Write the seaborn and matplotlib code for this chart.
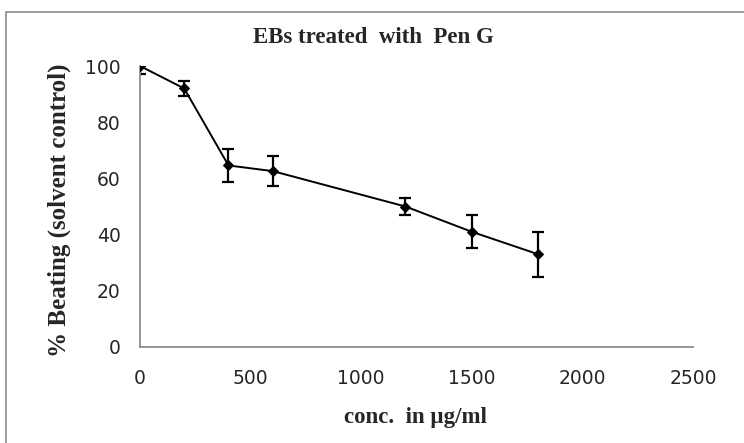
import matplotlib
matplotlib.use("Agg")
import matplotlib.pyplot as plt
import seaborn as sns
import pandas as pd
from matplotlib.patches import Rectangle

conc = [0, 200, 400, 600, 1200, 1500, 1800]
beating = [100, 92, 64.6, 62.6, 50, 41, 33]
err_low = [3, 2.6, 5.8, 5.4, 3, 5.8, 8.1]
err_high = [0, 2.6, 5.8, 5.4, 3, 5.8, 8.1]
x_ticks = [0, 500, 1000, 1500, 2000, 2500]
y_ticks = [0, 20, 40, 60, 80, 100]

sns.set_style("white")
df = pd.DataFrame({"conc": conc, "beating": beating})

fig = plt.figure(figsize=(7.44, 4.43), dpi=100)
ax = fig.add_axes([140/744, 1-347/443, (693-140)/744, (347-66)/443])

ax.errorbar(conc, beating, yerr=[err_low, err_high], fmt="none", ecolor="black",
            elinewidth=1.6, capsize=4.5, capthick=1.6, zorder=2)
sns.lineplot(data=df, x="conc", y="beating", ax=ax, color="black", linewidth=1.4,
             marker="D", markersize=5, markeredgecolor="black", zorder=3)

ax.set_xlim(0, 2500)
ax.set_ylim(0, 100)
ax.set_xticks(x_ticks)
ax.set_yticks(y_ticks)
ax.set_xlabel("")
ax.set_ylabel("")
for s in ["top", "right"]:
    ax.spines[s].set_visible(False)
for s in ["left", "bottom"]:
    ax.spines[s].set_color("#8c8c8c")
    ax.spines[s].set_linewidth(1.3)
ax.tick_params(axis="both", which="both", direction="out", length=5, width=1.3,
               color="#8c8c8c", labelsize=13.5)
ax.tick_params(axis="x", pad=11)
ax.tick_params(axis="y", pad=9)
for lab in ax.get_xticklabels() + ax.get_yticklabels():
    lab.set_fontfamily("DejaVu Sans")
    lab.set_color("#262626")

fig.text(373/744, 1-43/443, "EBs treated  with  Pen G", ha="center", va="baseline",
         fontfamily="Liberation Serif", fontweight="bold", fontsize=16.5)
fig.text(416/744, 1-423/443, "conc.  in µg/ml", ha="center", va="baseline",
         fontfamily="Liberation Serif", fontweight="bold", fontsize=16.5)
fig.text(59/744, 1-210/443, "% Beating (solvent control)", ha="center", va="center",
         rotation=90, fontfamily="Liberation Serif", fontweight="bold", fontsize=18)

fig.patches.append(Rectangle((6/744, -0.05), 1.0, 1-12/443+0.05, transform=fig.transFigure,
                             fill=False, edgecolor="#8c8c8c", linewidth=1.2))

fig.savefig("out.png", dpi=100)
